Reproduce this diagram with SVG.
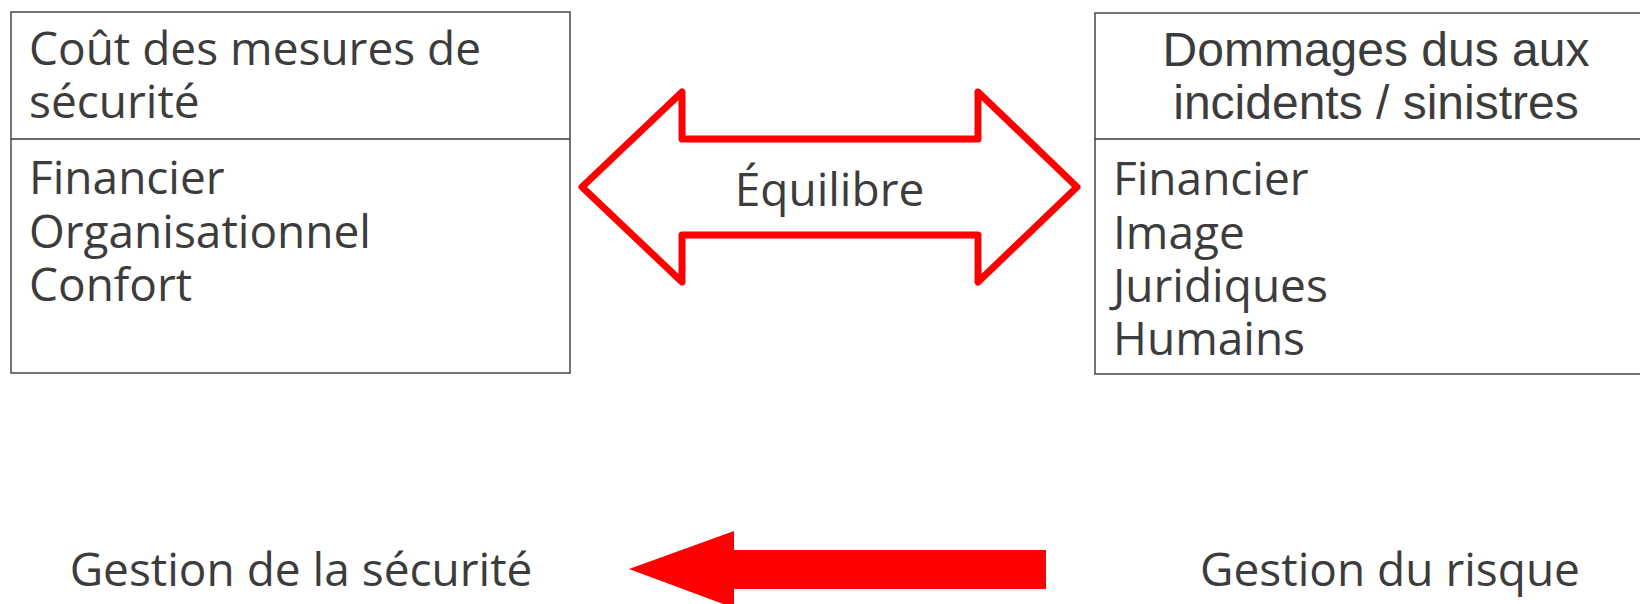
<svg xmlns="http://www.w3.org/2000/svg" width="1640" height="604" viewBox="0 0 1640 604">
<style>
.box{fill:#fff;stroke:#3a3a3a;stroke-width:1.4}
.div{stroke:#3a3a3a;stroke-width:1.4}
.t{font-family:"Open Sans","Noto Sans",sans-serif;font-size:46px;fill:#3c3c3c}
.h{font-family:"Liberation Sans",Arial,sans-serif;font-size:48px;fill:#3c3c3c}
.dbl{fill:#fff;stroke:#ff0000;stroke-width:7;stroke-linejoin:round}
.arr{fill:#ff0000}
</style>
<rect width="1640" height="604" fill="#fff"/>
<g id="node-cout">
<rect class="box" x="11" y="12" width="559" height="361"/>
<line class="div" x1="11" y1="139" x2="570" y2="139"/>
<text class="t" x="29" y="65">Coût des mesures de</text>
<text class="t" x="29" y="118">sécurité</text>
<text class="t" x="29" y="194">Financier</text>
<text class="t" x="29" y="248">Organisationnel</text>
<text class="t" x="29" y="301">Confort</text>
</g>
<g id="node-dommages">
<rect class="box" x="1095" y="13" width="600" height="361"/>
<line class="div" x1="1095" y1="139" x2="1640" y2="139"/>
<text class="h" x="1376" y="66" text-anchor="middle">Dommages dus aux</text>
<text class="h" x="1376" y="119" text-anchor="middle">incidents / sinistres</text>
<text class="t" x="1113" y="195">Financier</text>
<text class="t" x="1113" y="249">Image</text>
<text class="t" x="1113" y="302">Juridiques</text>
<text class="t" x="1113" y="355">Humains</text>
</g>
<g id="node-equilibre">
<path class="dbl" d="M582,187 L682,92 L682,139 L978,139 L978,92 L1077,187 L978,282 L978,235 L682,235 L682,282 Z"/>
<text class="t" x="829.5" y="206" text-anchor="middle">Équilibre</text>
</g>
<g id="node-gestion-securite">
<text class="t" x="301" y="586" text-anchor="middle">Gestion de la sécurité</text>
</g>
<g id="node-gestion-risque">
<text class="t" x="1390" y="586" text-anchor="middle">Gestion du risque</text>
</g>
<g id="connectors">
<path class="arr" d="M629,569 L734,531 L734,550 L1046,550 L1046,589 L734,589 L734,608 Z"/>
</g>
</svg>
